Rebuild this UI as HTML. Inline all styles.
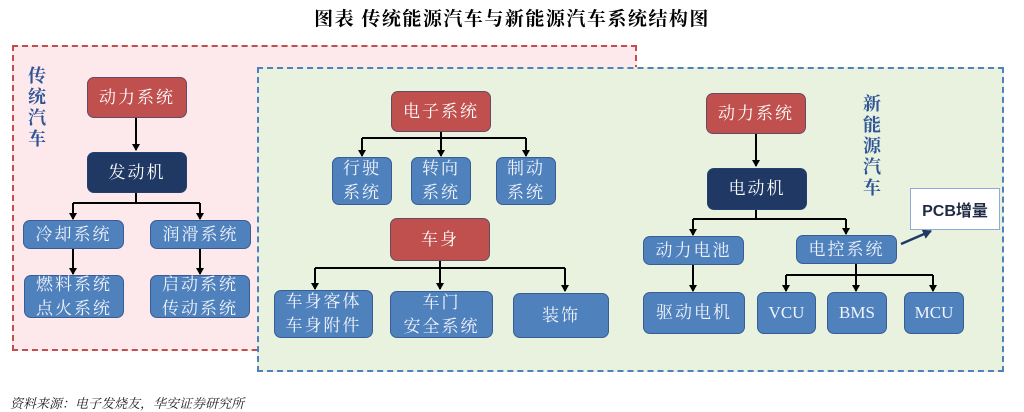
<!DOCTYPE html>
<html><head><meta charset="utf-8"><style>
body{margin:0;width:1024px;height:411px;background:#fff;position:relative;overflow:hidden;font-family:"Liberation Serif","Noto Serif CJK SC","Noto Sans CJK SC",serif;}
.a{position:absolute;box-sizing:border-box;}
.n{position:absolute;box-sizing:border-box;border-radius:7px;color:#fff;display:flex;align-items:center;justify-content:center;text-align:center;font-size:17px;line-height:24px;letter-spacing:2px;border:1px solid rgba(40,70,120,.6);}
.b{background:#4f81bd;color:#f2f4fa;}
.r{background:#c0504d;}
.d{background:#1f3864;}
.v{position:absolute;color:#2f5597;font-size:18px;font-weight:bold;line-height:21px;width:20px;text-align:center;}
</style></head><body>
<div class="a" style="left:0;top:4px;width:1024px;text-align:center;font-size:19px;font-weight:bold;letter-spacing:1.5px;font-family:'Liberation Serif','Noto Serif CJK SC',serif;">图表 传统能源汽车与新能源汽车系统结构图</div>
<div class="a" style="left:12px;top:45px;width:625px;height:306px;background:#fde9ec;border:2.5px dashed #c0504d;"></div>
<div class="a" style="left:257px;top:67px;width:747px;height:305px;background:#e8f2de;border:2.5px dashed #4f81bd;"></div>
<div class="v" style="left:27px;top:66px;">传<br>统<br>汽<br>车</div>
<div class="v" style="left:862px;top:94px;">新<br>能<br>源<br>汽<br>车</div>
<svg class="a" style="left:0;top:0" width="1024" height="411">
<defs><marker id="m" markerWidth="8" markerHeight="8" refX="6" refY="4" orient="auto" markerUnits="userSpaceOnUse"><path d="M0,0 L7,4 L0,8 z" fill="#000"/></marker>
<marker id="m2" markerWidth="10" markerHeight="10" refX="8" refY="5" orient="auto" markerUnits="userSpaceOnUse"><path d="M0,0 L9,5 L0,10 z" fill="#1f3864"/></marker></defs>
<g stroke="#000" stroke-width="2" fill="none">
<path d="M136 118 V150" marker-end="url(#m)"/>
<path d="M136 193 V203 M73 203 H200"/><path d="M73 203 V219" marker-end="url(#m)"/><path d="M200 203 V219" marker-end="url(#m)"/>
<path d="M73 249 V274" marker-end="url(#m)"/><path d="M200 249 V274" marker-end="url(#m)"/>
<path d="M441 132 V138 M362 138 H526"/><path d="M362 138 V156" marker-end="url(#m)"/><path d="M441 138 V156" marker-end="url(#m)"/><path d="M526 138 V156" marker-end="url(#m)"/>
<path d="M440 261 V268 M315 268 H565"/><path d="M315 268 V289" marker-end="url(#m)"/><path d="M440 268 V289" marker-end="url(#m)"/><path d="M565 268 V291" marker-end="url(#m)"/>
<path d="M756 134 V166" marker-end="url(#m)"/>
<path d="M756 210 V219 M693 219 H846"/><path d="M693 219 V235" marker-end="url(#m)"/><path d="M846 219 V234" marker-end="url(#m)"/>
<path d="M693 265 V291" marker-end="url(#m)"/>
<path d="M856 264 V275 M786 275 H933"/><path d="M786 275 V291" marker-end="url(#m)"/><path d="M856 275 V291" marker-end="url(#m)"/><path d="M933 275 V291" marker-end="url(#m)"/>
</g>
<path d="M901 244 L931 231" stroke="#1f3864" stroke-width="2.5" marker-end="url(#m2)"/>
</svg>
<div class="n r" style="left:87px;top:77px;width:100px;height:41px;">动力系统</div>
<div class="n d" style="left:87px;top:152px;width:100px;height:41px;">发动机</div>
<div class="n b" style="left:23px;top:220px;width:101px;height:29px;">冷却系统</div>
<div class="n b" style="left:150px;top:220px;width:101px;height:29px;">润滑系统</div>
<div class="n b" style="left:24px;top:275px;width:100px;height:43px;">燃料系统<br>点火系统</div>
<div class="n b" style="left:150px;top:275px;width:100px;height:43px;">启动系统<br>传动系统</div>
<div class="n r" style="left:391px;top:91px;width:100px;height:41px;">电子系统</div>
<div class="n b" style="left:332px;top:157px;width:60px;height:48px;">行驶<br>系统</div>
<div class="n b" style="left:411px;top:157px;width:60px;height:48px;">转向<br>系统</div>
<div class="n b" style="left:496px;top:157px;width:60px;height:48px;">制动<br>系统</div>
<div class="n r" style="left:390px;top:218px;width:100px;height:43px;">车身</div>
<div class="n b" style="left:274px;top:290px;width:99px;height:48px;">车身客体<br>车身附件</div>
<div class="n b" style="left:390px;top:291px;width:103px;height:47px;">车门<br>安全系统</div>
<div class="n b" style="left:513px;top:293px;width:96px;height:45px;">装饰</div>
<div class="n r" style="left:706px;top:93px;width:100px;height:41px;">动力系统</div>
<div class="n d" style="left:707px;top:168px;width:100px;height:42px;">电动机</div>
<div class="n b" style="left:643px;top:236px;width:101px;height:29px;">动力电池</div>
<div class="n b" style="left:796px;top:235px;width:101px;height:29px;">电控系统</div>
<div class="n b" style="left:643px;top:292px;width:102px;height:42px;">驱动电机</div>
<div class="n b" style="left:757px;top:292px;width:59px;height:42px;letter-spacing:0;">VCU</div>
<div class="n b" style="left:827px;top:292px;width:60px;height:42px;letter-spacing:0;">BMS</div>
<div class="n b" style="left:904px;top:292px;width:60px;height:42px;letter-spacing:0;">MCU</div>
<div class="a" style="left:910px;top:188px;width:90px;height:42px;background:#fff;border:1px solid #8eaadb;display:flex;align-items:center;justify-content:center;font-family:'Liberation Sans','Noto Sans CJK SC',sans-serif;font-weight:bold;font-size:16px;color:#1f2a44;">PCB增量</div>
<div class="a" style="left:10px;top:393px;font-size:13px;font-style:italic;color:#222;">资料来源：电子发烧友，华安证券研究所</div>
</body></html>
